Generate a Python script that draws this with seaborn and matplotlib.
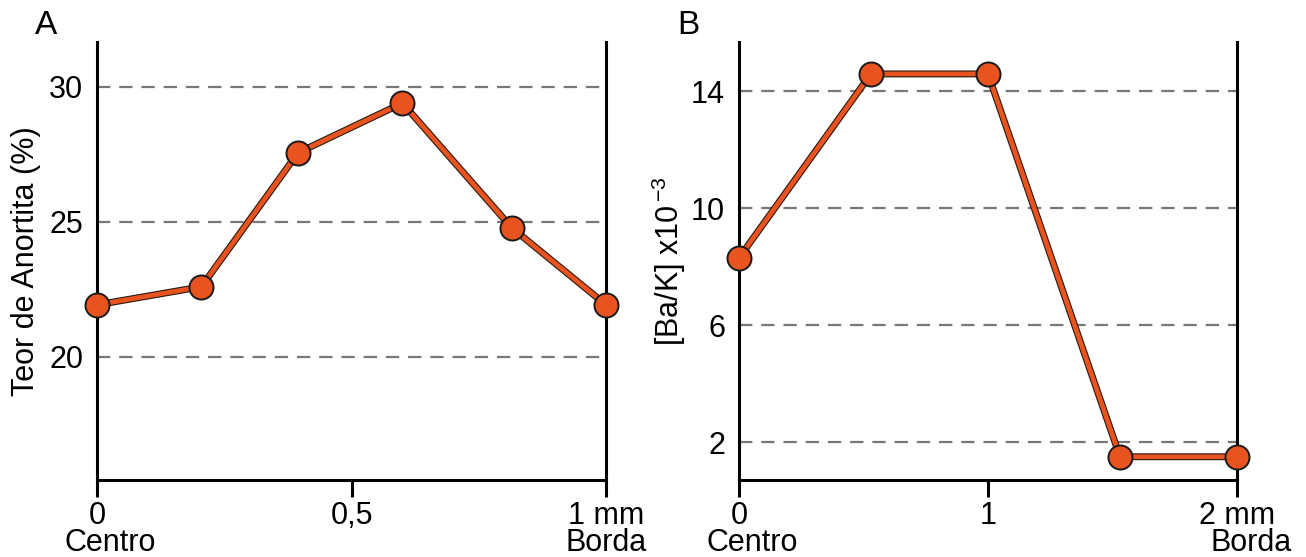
import seaborn as sns
import pandas as pd
import matplotlib.pyplot as plt
import matplotlib.patheffects as pe

# dados do painel A (teor de anortita)
dist_a = [0, 0.205, 0.395, 0.6, 0.815, 1.0]
anortita = [21.93, 22.6, 27.56, 29.4, 24.78, 21.93]

# dados do painel B (razao Ba/K)
dist_b = [0, 0.53, 1.0, 1.53, 2.0]
ba_k = [8.3, 14.6, 14.6, 1.5, 1.5]

df_a = pd.DataFrame({"x": dist_a, "y": anortita})
df_b = pd.DataFrame({"x": dist_b, "y": ba_k})

sns.set_style("white")
plt.rcParams['font.family'] = ['Liberation Sans', 'DejaVu Sans']
plt.rcParams['text.color'] = "black"
plt.rcParams['axes.labelcolor'] = "black"
plt.rcParams['xtick.color'] = "black"
plt.rcParams['ytick.color'] = "black"

laranja = "#E8531F"
fig = plt.figure(figsize=(13.06, 5.57), dpi=100)
ax_a = fig.add_axes([0.0743, 0.138, 0.3897, 0.787])
ax_b = fig.add_axes([0.5658, 0.138, 0.3814, 0.787])

for ax, df in [(ax_a, df_a), (ax_b, df_b)]:
    # linha laranja com contorno escuro
    sns.lineplot(x="x", y="y", data=df, ax=ax, color=laranja, lw=3.4, zorder=4,
                 path_effects=[pe.Stroke(linewidth=5.0, foreground="#2a1a10"), pe.Normal()])
    ax.lines[0].set_clip_on(False)
    # pontos
    sns.scatterplot(x="x", y="y", data=df, ax=ax, color=laranja, s=300,
                    edgecolor="#1a1a1a", linewidth=1.4, zorder=5, clip_on=False)
    for s in ["left", "right", "bottom"]:
        ax.spines[s].set_visible(True)
        ax.spines[s].set_color("black")
        ax.spines[s].set_linewidth(2.2)
    ax.spines["top"].set_visible(False)
    ax.tick_params(axis="y", length=0, labelsize=22, pad=10)
    ax.tick_params(axis="x", length=12, width=2.2, direction="out", labelsize=22, pad=3, bottom=True)
    ax.set_xlabel("")

# painel A
ax_a.set_xlim(0, 1)
ax_a.set_ylim(15.44, 31.67)
ax_a.set_xticks([0, 0.5, 1])
ax_a.set_xticklabels(["0", "0,5", "1 mm"])
ax_a.set_yticks([20, 25, 30])
for v in [20, 25, 30]:
    ax_a.axhline(v, color="#777777", lw=1.6, ls=(0, (6, 4)), zorder=1)
ax_a.set_ylabel("Teor de Anortita (%)", fontsize=22, labelpad=6)
ax_a.text(0.026, -0.144, "Centro", transform=ax_a.transAxes, fontsize=22, ha="center", va="center")
ax_a.text(1.0, -0.144, "Borda", transform=ax_a.transAxes, fontsize=22, ha="center", va="center")
fig.text(0.035, 0.955, "A", fontsize=24, ha="center", va="center")

# painel B
ax_b.set_xlim(0, 2)
ax_b.set_ylim(0.7, 15.7)
ax_b.set_xticks([0, 1, 2])
ax_b.set_xticklabels(["0", "1", "2 mm"])
ax_b.set_yticks([2, 6, 10, 14])
for v in [2, 6, 10, 14]:
    ax_b.axhline(v, color="#777777", lw=1.6, ls=(0, (6, 4)), zorder=1)
ax_b.set_ylabel(r"[Ba/K] x10$^{\,\mathregular{-3}}$", fontsize=22, labelpad=2)
ax_b.text(0.026, -0.144, "Centro", transform=ax_b.transAxes, fontsize=22, ha="center", va="center")
ax_b.text(1.028, -0.144, "Borda", transform=ax_b.transAxes, fontsize=22, ha="center", va="center")
fig.text(0.527, 0.955, "B", fontsize=24, ha="center", va="center")

plt.savefig("out.png", dpi=100)
